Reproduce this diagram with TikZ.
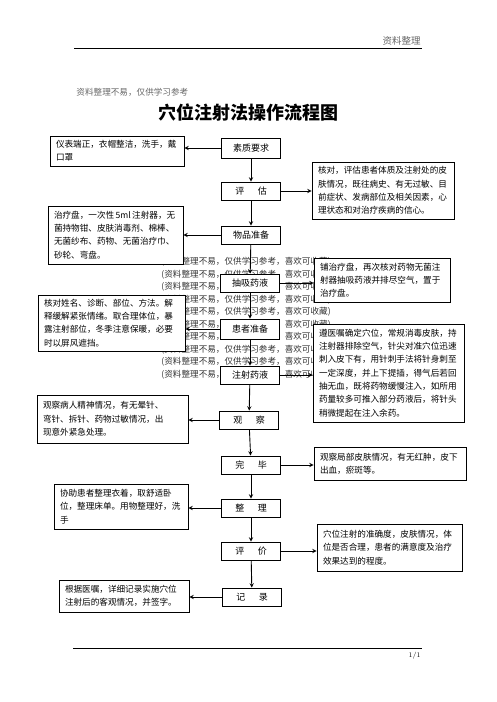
\documentclass[tikz,border=0pt]{standalone}
\usepackage{fontspec}
\newfontfamily\cjk{Noto Sans CJK SC}
\usetikzlibrary{positioning}

\tikzset{
  mainbox/.style={draw, line width=0.9pt, fill=white, minimum width=59pt,
    minimum height=18pt, inner sep=0pt, font=\cjk\fontsize{9}{11}\selectfont},
  sidebox/.style={draw, line width=0.9pt, fill=white, align=left,
    inner xsep=6pt, inner ysep=4pt, font=\cjk\fontsize{8.6}{13.3}\selectfont},
  wmark/.style={anchor=west, inner sep=0pt, text=black!80,
    font=\cjk\fontsize{8.6}{10}\selectfont},
}

\begin{document}
\begin{tikzpicture}[x=1pt,y=-1pt,>=stealth,line width=0.9pt]
                \useasboundingbox (0,0) rectangle (496,702);

                % page head
                \draw[line width=0.7pt] (74,48)--(422,48);
                \node[anchor=south east, inner sep=1pt, text=black!60, font=\cjk\fontsize{9.5}{10}\selectfont] (head) at(422,47) {资料整理};
                \node[anchor=west, inner sep=0pt, text=black!60, font=\cjk\fontsize{8.6}{10}\selectfont] (note) at(76,92) {资料整理不易，仅供学习参考};
                \node[font=\cjk\fontsize{18}{20}\selectfont\bfseries] (title) at(248,113) {穴位注射法操作流程图};

                % watermark lines behind the boxes
                \foreach \i in {0,...,9}
                    \node[wmark] (wm\i) at(161,262+12.5*\i) {(资料整理不易，仅供学习参考，喜欢可收藏)};

                % main column
                \node[mainbox, minimum height=20pt] (szyq) at(251,148) {素质要求};
                \node[mainbox] (pg)   at(251,191) {评\hspace{1.5em}估};
                \node[mainbox] (wpzb) at(251,235) {物品准备};
                \node[mainbox] (cxyy) at(250,283) {抽吸药液};
                \node[mainbox, minimum height=20pt] (hzzb) at(250,329) {患者准备};
                \node[mainbox] (zsyy) at(250,375) {注射药液};
                \node[mainbox] (gc)   at(249,420) {观\hspace{1.5em}察};
                \node[mainbox] (wb)   at(251,465) {完\hspace{1.5em}毕};
                \node[mainbox] (zl)   at(251,508) {整\hspace{1.5em}理};
                \node[mainbox] (pj)   at(251,551) {评\hspace{1.5em}价};
                \node[mainbox] (jl)   at(252,597) {记\hspace{1.5em}录};

                % left notes
                \node[sidebox, text width=122pt, minimum height=30pt] (yb) at(117,151)
                    {仪表端正，衣帽整洁，洗手，戴\\口罩};
                \node[sidebox, text width=123pt, minimum height=58pt] (wp) at(115.5,235)
                    {\mbox{治疗盘，一次性\,5ml\,注射器，无}\\菌持物钳、皮肤消毒剂、棉棒、\\无菌纱布、药物、无菌治疗巾、\\砂轮、弯盘。};
                \node[sidebox, text width=135pt, minimum height=56pt] (hd) at(111.5,323)
                    {核对姓名、诊断、部位、方法。解\\释缓解紧张情绪。取合理体位，暴\\露注射部位，冬季注意保暖，必要\\时以屏风遮挡。};
                \node[sidebox, text width=139pt, minimum height=48pt] (gcbr) at(112.5,419)
                    {观察病人精神情况，有无晕针、\\弯针、拆针、药物过敏情况，出\\现意外紧急处理。};
                \node[sidebox, text width=122pt, minimum height=45pt] (xz) at(121,506.5)
                    {协助患者整理衣着，取舒适卧\\位，整理床单。用物整理好，洗\\手};
                \node[sidebox, text width=118pt, minimum height=32pt] (gj) at(124,596)
                    {根据医嘱，详细记录实施穴位\\注射后的客观情况，并签字。};

                % right notes
                \node[sidebox, text width=130pt, minimum height=57pt] (hdpg) at(383,190.5)
                    {核对，评估患者体质及注射处的皮\\肤情况，既往病史、有无过敏、目\\前症状、发病部位及相关因素，心\\理状态和对治疗疾病的信心。};
                \node[sidebox, text width=124pt, minimum height=44pt] (pzl) at(382,280)
                    {铺治疗盘，再次核对药物无菌注\\射器抽吸药液并排尽空气，置于\\治疗盘。};
                \node[sidebox, text width=139pt, minimum height=98pt] (zyz) at(388.5,373)
                    {遵医嘱确定穴位，常规消毒皮肤，持\\注射器排除空气，针尖对准穴位迅速\\刺入皮下有，用针刺手法将针身刺至\\一定深度，并上下提插，得气后若回\\抽无血，既将药物缓慢注入，如所用\\药量较多可推入部分药液后，将针头\\稍微提起在注入余药。};
                \node[sidebox, text width=140pt, minimum height=33pt] (gcjb) at(390,463.5)
                    {观察局部皮肤情况，有无红肿，皮下\\出血，瘀斑等。};
                \node[sidebox, text width=133pt, minimum height=47pt] (xwzs) at(389.5,547.5)
                    {穴位注射的准确度，皮肤情况，体\\位是否合理，患者的满意度及治疗\\效果达到的程度。};

                % flow down the main column
                \draw[->] (szyq)--(pg);
                \draw[->] (pg)--(wpzb);
                \draw[->] (wpzb)--(cxyy);
                \draw[->] (cxyy)--(hzzb);
                \draw[->] (hzzb)--(zsyy);
                \draw[->] (zsyy)--(gc);
                \draw[->] (gc)--(wb);
                \draw[->] (wb)--(zl);
                \draw[->] (zl)--(pj);
                \draw[->] (pj)--(jl);

                % side arrows
                \draw[->] (szyq.west)--(szyq.west -| yb.east);
                \draw[->] (pg.east)--(pg.east -| hdpg.west);
                \draw[->] (wpzb.west)--(wpzb.west -| wp.east);
                \draw[->] (cxyy.east)--(cxyy.east -| pzl.west);
                \draw[->] (hzzb.west)--(hzzb.west -| hd.east);
                \draw[->] (zsyy.east)--(zsyy.east -| zyz.west);
                \draw[->] (gc.west)--(gc.west -| gcbr.east);
                \draw[->] (wb.east)--(wb.east -| gcjb.west);
                \draw[->] (zl.west)--(zl.west -| xz.east);
                \draw[->] (pj.east)--(pj.east -| xwzs.west);
                \draw[->] (jl.west)--(jl.west -| gj.east);

                % page foot
                \draw[line width=0.7pt] (73,648)--(422,648);
                \node[anchor=north east, inner sep=1pt, font=\fontsize{7}{8}\selectfont] (page) at(422,651) {1/1};
            \end{tikzpicture}
\end{document}
